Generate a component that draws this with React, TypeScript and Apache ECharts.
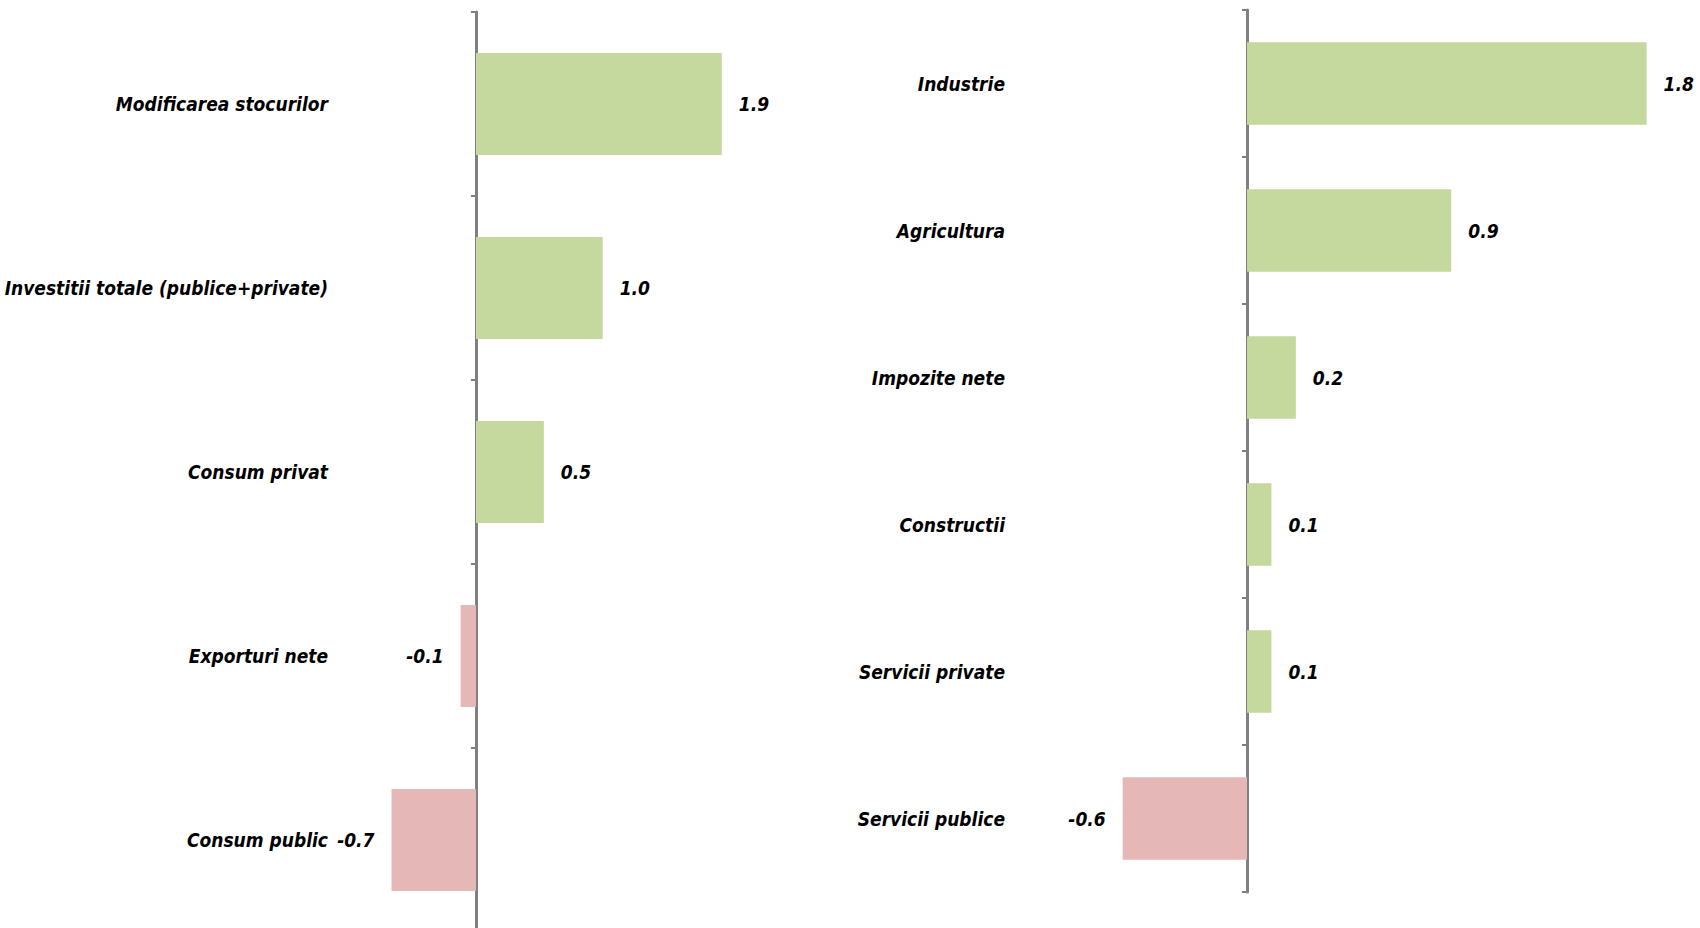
import React, { useEffect, useRef } from "react";
import * as echarts from "echarts";

const leftCategories = [
  "Modificarea stocurilor",
  "Investitii totale (publice+private)",
  "Consum privat",
  "Exporturi nete",
  "Consum public",
];
const leftValues = [1.92, 0.99, 0.53, -0.12, -0.66];

const rightCategories = [
  "Industrie",
  "Agricultura",
  "Impozite nete",
  "Constructii",
  "Servicii private",
  "Servicii publice",
];
const rightValues = [1.8, 0.92, 0.22, 0.11, 0.11, -0.56];

const GREEN = "#C5D89D";
const PINK = "#E5B7B7";
const FONT = '"DejaVu Sans Condensed", "DejaVu Sans", sans-serif';

const textStyle = {
  fontFamily: FONT,
  fontStyle: "italic" as const,
  fontWeight: "bold" as const,
  fontSize: 19,
  color: "#000",
};

function makeData(values: number[]) {
  return values.map((v) => ({
    value: v,
    itemStyle: { color: v >= 0 ? GREEN : PINK },
    label: { position: v >= 0 ? "right" : "left" },
  }));
}

export default function App() {
  const ref = useRef<HTMLDivElement>(null);
  useEffect(() => {
    if (!ref.current) return;
    const chart = echarts.init(ref.current, undefined, { renderer: "svg" });
    const yAxisCommon = (margin: number) => ({
      type: "category" as const,
      inverse: true,
      axisLine: { show: true, onZero: true, lineStyle: { color: "#808080", width: 3 } },
      axisTick: { show: true, length: 5, lineStyle: { color: "#808080", width: 2 } },
      axisLabel: { ...textStyle, margin },
      splitLine: { show: false },
    });
    chart.setOption({
      animation: false,
      backgroundColor: "#ffffff",
      grid: [
        { left: 348, width: 448, top: 12, height: 920, containLabel: false, outerBoundsMode: "none" },
        { left: 1025, width: 666, top: 10, height: 882, containLabel: false, outerBoundsMode: "none" },
      ],
      xAxis: [
        { type: "value", gridIndex: 0, min: -1, max: 2.5, show: false },
        { type: "value", gridIndex: 1, min: -1, max: 2, show: false },
      ],
      yAxis: [
        { ...yAxisCommon(20), gridIndex: 0, data: leftCategories },
        { ...yAxisCommon(20), gridIndex: 1, data: rightCategories },
      ],
      series: [
        {
          type: "bar",
          xAxisIndex: 0,
          yAxisIndex: 0,
          barCategoryGap: "44.5%",
          data: makeData(leftValues),
          label: {
            show: true,
            distance: 17,
            ...textStyle,
            formatter: (p: any) => Number(p.value).toFixed(1),
          },
        },
        {
          type: "bar",
          xAxisIndex: 1,
          yAxisIndex: 1,
          barCategoryGap: "44%",
          data: makeData(rightValues),
          label: {
            show: true,
            distance: 17,
            ...textStyle,
            formatter: (p: any) => Number(p.value).toFixed(1),
          },
        },
      ],
    });
    return () => chart.dispose();
  }, []);
  return (
    <div
      ref={ref}
      style={{ position: "fixed", left: 0, top: 0, width: 1700, height: 928 }}
    />
  );
}
